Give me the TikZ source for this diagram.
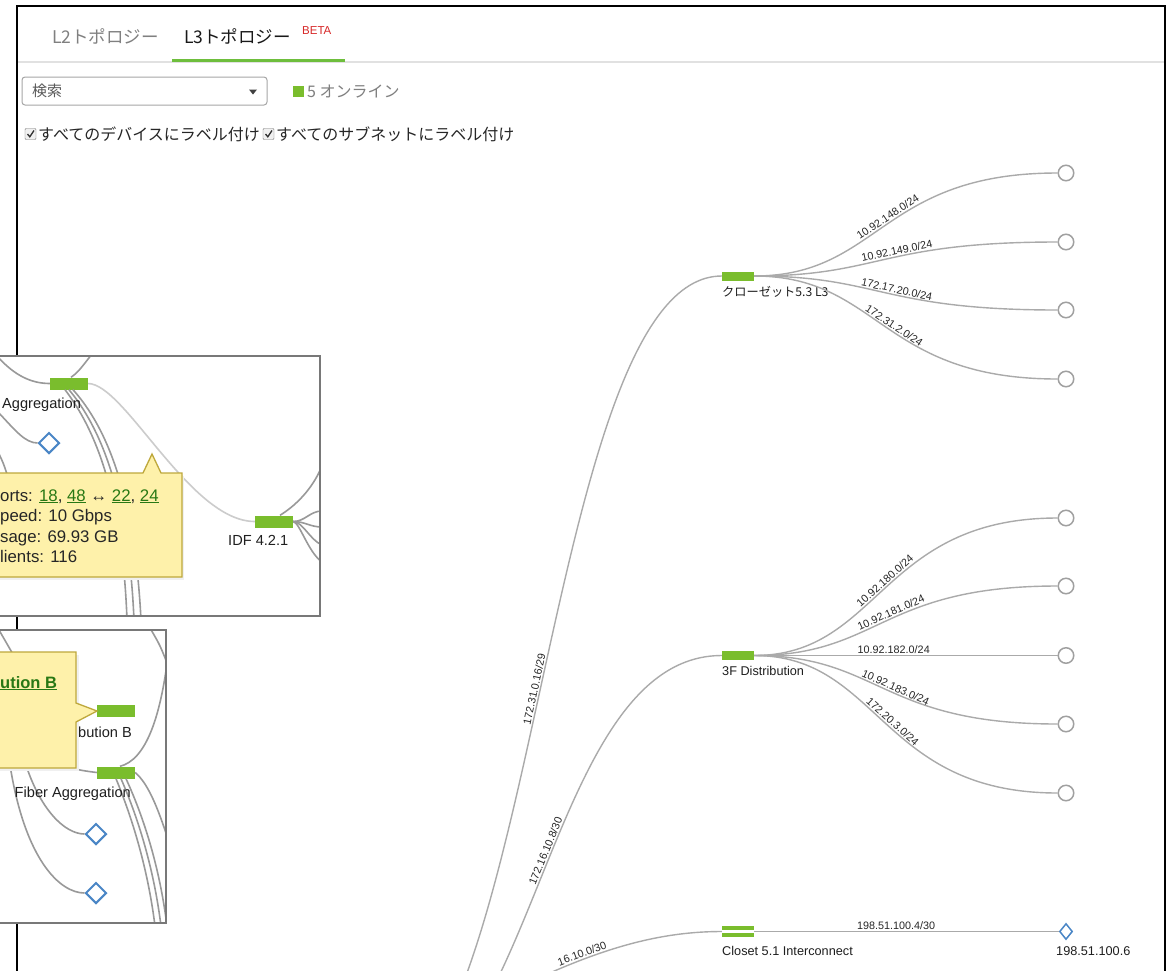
\documentclass[tikz,border=0pt]{standalone}
\usepackage{fontspec}
\setmainfont{Liberation Sans}
\newfontfamily\jp{Noto Sans CJK JP}
\usetikzlibrary{shapes.geometric}
\definecolor{devgreen}{RGB}{122,189,45}
\definecolor{linkgray}{RGB}{170,170,170}
\definecolor{leafgray}{RGB}{160,160,160}
\definecolor{diablue}{RGB}{74,134,198}
\definecolor{tipfill}{RGB}{254,241,170}
\definecolor{tipdraw}{RGB}{190,168,60}
\definecolor{linkgreen}{RGB}{40,120,20}
\definecolor{betared}{RGB}{215,40,40}
\definecolor{tabgreen}{RGB}{110,190,60}
\definecolor{sepgray}{RGB}{225,225,225}
\definecolor{insetgray}{RGB}{120,120,120}
\begin{document}
\begin{tikzpicture}[x=1pt,y=-1pt,
  dev/.style={rectangle,fill=devgreen,minimum width=32,minimum height=9,inner sep=0},
  leaf/.style={circle,draw=leafgray,line width=1.5,fill=white,minimum size=15.5,inner sep=0},
  edge/.style={draw=linkgray,line width=1.4},
  elabel/.style={sloped,above,font=\fontsize{10.8}{12}\selectfont,inner sep=1.2,text=black!85},
  nlabel/.style={font=\fontsize{12.7}{14}\selectfont,inner sep=0,text=black!88,anchor=base west},
  jplabel/.style={font=\jp\fontsize{12.2}{14}\selectfont,inner sep=0,text=black!88,anchor=base west},
  idev/.style={rectangle,fill=devgreen,minimum width=38,minimum height=12,inner sep=0},
  ilink/.style={draw=black!40,line width=1.6},
  ilight/.style={draw=black!20,line width=1.6},
  idia/.style={diamond,draw=diablue,line width=2,fill=white,minimum width=21,minimum height=21,inner sep=0},
  ilabel/.style={font=\fontsize{14.6}{16}\selectfont,inner sep=0,text=black!88,anchor=base west},
  tiptext/.style={font=\fontsize{16.8}{18}\selectfont,inner sep=0,anchor=base west,text=black!85},
  tip/.style={fill=tipfill,draw=tipdraw,line width=1.3,line join=miter},
  jptext/.style={font=\jp\fontsize{16}{18}\selectfont,inner sep=0,anchor=west}
]
\useasboundingbox (0,0) rectangle (1175,970);
\fill[white] (0,0) rectangle (1175,970);

% ---------- top UI ----------
\draw[sepgray,line width=1.2] (17,62) -- (1165,62);
\draw[tabgreen,line width=3] (172,60.5) -- (345,60.5);
\node[jptext,font=\jp\fontsize{17.5}{19}\selectfont,text=black!50] (tabL2) at (52,36) {L2トポロジー};
\node[jptext,font=\jp\fontsize{17.5}{19}\selectfont,text=black!90] (tabL3) at (184,36) {L3トポロジー};
\node[font=\fontsize{11.5}{13}\selectfont,text=betared,anchor=west,inner sep=0] (beta) at (302,31) {BETA};

\draw[black!35,line width=1,rounded corners=3,fill=white] (22,77) rectangle (267,105);
\node[jptext,font=\jp\fontsize{15}{17}\selectfont,text=black!65] (search) at (32,91) {検索};
\fill[black!75] (249,89.5) -- (257,89.5) -- (253,94.5) -- cycle;
\fill[devgreen] (293,86) rectangle (304,97);
\node[jptext,text=black!50] (online) at (307,92) {5 オンライン};

% checkboxes
\draw[black!55,fill=black!6,rounded corners=1] (25,128.5) rectangle (36,139.5);
\draw[black!80,line width=1.3] (27.5,134) -- (29.8,136.8) -- (34,130.5);
\node[jptext,text=black!85] (lab1) at (38,134) {すべてのデバイスにラベル付け};
\draw[black!55,fill=black!6,rounded corners=1] (263,128.5) rectangle (274,139.5);
\draw[black!80,line width=1.3] (265.5,134) -- (267.8,136.8) -- (272,130.5);
\node[jptext,text=black!85] (lab2) at (276,134) {すべてのサブネットにラベル付け};

% ---------- main graph ----------
\begin{scope}
\clip (17,6) rectangle (1165,970);
\node[dev] (l3) at (738,276) {};
\node[jplabel] (l3lbl) at (722,296) {クローゼット5.3 L3};
\node[leaf] (a1) at (1066,173) {};
\node[leaf] (a2) at (1066,242) {};
\node[leaf] (a3) at (1066,310) {};
\node[leaf] (a4) at (1066,379) {};
\draw[edge] (l3.east) .. controls (880,276) and (880,173) .. (a1) node[elabel,pos=.52] {10.92.148.0/24};
\draw[edge] (l3.east) .. controls (880,276) and (880,242) .. (a2) node[elabel,pos=.55] {10.92.149.0/24};
\draw[edge] (l3.east) .. controls (880,276) and (880,310) .. (a3) node[elabel,pos=.54] {172.17.20.0/24};
\draw[edge] (l3.east) .. controls (880,276) and (880,379) .. (a4) node[elabel,pos=.52] {172.31.2.0/24};

\node[dev] (d3f) at (738,655.5) {};
\node[nlabel] (d3flbl) at (722,675) {3F Distribution};
\node[leaf] (b1) at (1066,518) {};
\node[leaf] (b2) at (1066,586) {};
\node[leaf] (b3) at (1066,655.5) {};
\node[leaf] (b4) at (1066,724) {};
\node[leaf] (b5) at (1066,793) {};
\draw[edge] (d3f.east) .. controls (880,655.5) and (880,518) .. (b1) node[elabel,pos=.51] {10.92.180.0/24};
\draw[edge] (d3f.east) .. controls (880,655.5) and (880,586) .. (b2) node[elabel,pos=.53] {10.92.181.0/24};
\draw[edge] (d3f.east) -- (b3) node[elabel,pos=.46] {10.92.182.0/24};
\draw[edge] (d3f.east) .. controls (880,655.5) and (880,724) .. (b4) node[elabel,pos=.53] {10.92.183.0/24};
\draw[edge] (d3f.east) .. controls (880,655.5) and (880,793) .. (b5) node[elabel,pos=.51] {172.20.3.0/24};

\node[minimum width=32,minimum height=11,inner sep=0] (ci) at (738,931.5) {};
\fill[devgreen] (722,926) rectangle (754,930.2);
\fill[devgreen] (722,932.8) rectangle (754,937);
\node[nlabel] (cilbl) at (722,955) {Closet 5.1 Interconnect};
\node[diamond,draw=diablue,line width=1.5,fill=white,minimum width=13,minimum height=16,inner sep=0] (dm) at (1066,931.5) {};
\node[nlabel] (dmlbl) at (1056,955) {198.51.100.6};
\draw[edge] (ci.east) -- (dm.west) node[elabel,pos=.466] {198.51.100.4/30};

\coordinate (src) at (358,1105);
\coordinate (src3) at (420,1040);
\draw[edge] (src) .. controls (540,1105) and (540,276) .. (l3.west) node[elabel,pos=.5] {172.31.0.16/29};
\draw[edge] (src) .. controls (540,1105) and (540,655.5) .. (d3f.west) node[elabel,pos=.54] {172.16.10.8/30};
\draw[edge] (src3) .. controls (560,960) and (640,931.5) .. (ci.west) node[elabel,pos=.47] {16.10.0/30};
\end{scope}

% main frame
\draw[black,line width=2] (17,972) -- (17,6) -- (1165,6) -- (1165,972);

% ---------- inset 1 ----------
\begin{scope}
\fill[white] (-5,356) rectangle (320,616);
\clip (-5,356) rectangle (320,616);
\node[idev] (agg) at (69,383.5) {};
\node[idev] (idf) at (274,521.5) {};
\node[idia] (dA) at (49,443) {};
\coordinate (e1) at (-2,357);
\coordinate (e2) at (92,354);
\coordinate (e3) at (-2,412);
\coordinate (e4) at (127,620);
\coordinate (e5) at (134,620);
\coordinate (e6) at (141,620);
\coordinate (e7) at (-2,452);
\coordinate (e8) at (9,480);
\coordinate (f0) at (322,466);
\coordinate (f1) at (322,511);
\coordinate (f2) at (322,527);
\coordinate (f3) at (322,545);
\coordinate (f4) at (322,562);
\draw[ilink] (e1) .. controls (15,376) and (32,383.5) .. (agg.west);
\draw[ilink] ([xshift=2]agg.north) .. controls (78,372) .. (e2);
\draw[ilink] (e3) .. controls (15,430) and (25,443) .. (dA.west);
\draw[ilink] (e7) .. controls (3,462) .. (e8);
\draw[ilink] ([xshift=-4]agg.south) .. controls (88,420) and (122,480) .. (e4);
\draw[ilink] (agg.south) .. controls (94,420) and (128,480) .. (e5);
\draw[ilink] ([xshift=4]agg.south) .. controls (100,420) and (134,480) .. (e6);
\draw[ilight] (agg.east) .. controls (125,384) and (190,521.5) .. (idf.west);
\draw[ilink] ([xshift=6]idf.north) .. controls (295,506) and (312,490) .. (f0);
\draw[ilink] (idf.east) .. controls (305,521.5) and (310,511) .. (f1);
\draw[ilink] (idf.east) .. controls (305,521.5) and (310,527) .. (f2);
\draw[ilink] (idf.east) .. controls (303,522) and (310,540) .. (f3);
\draw[ilink] (idf.east) .. controls (300,523) and (308,552) .. (f4);
\node[ilabel] (agglbl) at (2,408) {Aggregation};
\node[ilabel] (idflbl) at (228,545) {IDF 4.2.1};
\fill[black!6] (-5,476) -- (184,476) -- (184,580) -- (-5,580) -- cycle;
\path[tip] (-5,473) -- (143,473) -- (152,454) -- (161,473) -- (182,473) -- (182,577) -- (-5,577) -- cycle;
\node[tiptext] (tp1) at (0,501) {orts: {\color{linkgreen}\underline{18}}, {\color{linkgreen}\underline{48}} ↔ {\color{linkgreen}\underline{22}}, {\color{linkgreen}\underline{24}}};
\node[tiptext] (tp2) at (0,521.5) {peed: 10 Gbps};
\node[tiptext] (tp3) at (0,542) {sage: 69.93 GB};
\node[tiptext] (tp4) at (0,562) {lients: 116};
\end{scope}
\draw[insetgray,line width=2] (-5,356) rectangle (320,616);

% ---------- inset 2 ----------
\begin{scope}
\fill[white] (-5,630) rectangle (166,923);
\clip (-5,630) rectangle (166,923);
\node[idev] (db) at (116,710.5) {};
\node[idev] (fa) at (116,772.5) {};
\node[idia] (dB) at (96,834) {};
\node[idia] (dC) at (96,893) {};
\coordinate (g1) at (-1,630);
\coordinate (g2) at (14,656);
\coordinate (g3) at (25,762);
\coordinate (g4) at (10,765);
\coordinate (g5) at (70,768);
\coordinate (g6) at (170,638);
\coordinate (g7) at (150,628);
\coordinate (g8) at (169,668);
\coordinate (h1) at (155,926);
\coordinate (h2) at (161,926);
\coordinate (h3) at (167,926);
\coordinate (h4) at (169,842);
\draw[ilink] (g1) -- (g2);
\draw[ilink] (g3) .. controls (40,810) and (65,834) .. (dB.west);
\draw[ilink] (g4) .. controls (25,860) and (60,893) .. (dC.west);
\draw[ilink] (g5) .. controls (85,771) .. (fa.west);
\draw[ilink] (g6) .. controls (162,720) and (145,760) .. ([xshift=4]fa.north);
\draw[ilink] (g7) .. controls (160,645) .. (g8);
\draw[ilink] ([xshift=0]fa.south) .. controls (133,820) and (148,870) .. (h1);
\draw[ilink] ([xshift=5]fa.south) .. controls (139,820) and (154,870) .. (h2);
\draw[ilink] ([xshift=10]fa.south) .. controls (145,820) and (160,870) .. (h3);
\draw[ilink] (fa.east) .. controls (150,785) and (160,815) .. (h4);
\node[ilabel,anchor=base east] (dblbl) at (132,737) {bution B};
\node[ilabel,anchor=base east] (falbl) at (131,797) {Fiber Aggregation};
\fill[black!6] (-5,655) -- (79,655) -- (79,771) -- (-5,771) -- cycle;
\path[tip] (-5,652) -- (76,652) -- (76,703) -- (97,711) -- (76,722) -- (76,768) -- (-5,768) -- cycle;
\node[tiptext,font=\bfseries\fontsize{16.5}{18}\selectfont,text=linkgreen] (tpB) at (0,688) {\underline{ution B}};
\end{scope}
\draw[insetgray,line width=2] (-5,630) rectangle (166,923);
\end{tikzpicture}
\end{document}
